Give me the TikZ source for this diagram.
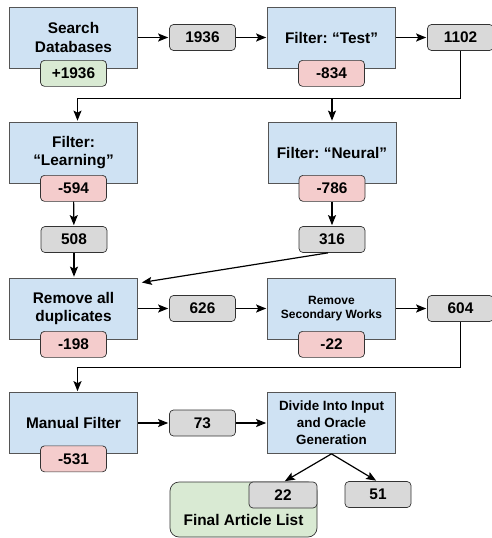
\documentclass[tikz,border=0pt]{standalone}
\usepackage{fontspec}
\setmainfont{Liberation Sans}
\usepackage{tikz}
\usetikzlibrary{arrows,arrows.meta,shapes,positioning}
\definecolor{stageblue}{HTML}{CFE2F3}
\definecolor{countgray}{HTML}{D9D9D9}
\definecolor{lossred}{HTML}{F4CCCC}
\definecolor{gaingreen}{HTML}{D9EAD3}
\definecolor{edgegray}{HTML}{555555}
\frenchspacing

\begin{document}
\begin{tikzpicture}[x=1pt,y=1pt,>={Stealth[length=10pt,width=8pt,inset=2pt]},->,
  shorten >=1pt,line width=1.2pt,
  node distance=129pt,font=\bfseries\fontsize{15.4}{18.5}\selectfont,
  stage node/.style={rectangle,draw=edgegray,line width=0.7pt,fill=stageblue,
    minimum width=128pt,minimum height=61pt,align=center,inner sep=2pt},
  count node/.style={rectangle,rounded corners=4pt,draw=black!80,line width=0.7pt,
    fill=countgray,minimum width=66pt,minimum height=26pt,inner sep=1pt},
  loss node/.style={count node,fill=lossred},
  gain node/.style={count node,fill=gaingreen}]
  \useasboundingbox (0,0) rectangle (492,-538);

  % row 1
  \node[stage node] (1) at (73.5,-37.5) {Search\\Databases};
  \node[count node] (2) [right of=1] {1936};
  \node[stage node] (3) [right of=2] {Filter: “Test”};
  \node[count node] (4) [right of=3] {1102};
  \node[gain node] (1b) at ([yshift=-5pt]1.south) {+1936};
  \node[loss node] (3b) at ([yshift=-5pt]3.south) {-834};

  % row 2
  \node[stage node] (5) at (73.5,-152.5) {Filter:\\“Learning”};
  \node[stage node] (6) at (332,-152.5) {Filter: “Neural”};
  \node[loss node] (5b) at ([yshift=-5pt]5.south) {-594};
  \node[loss node] (6b) at ([yshift=-5pt]6.south) {-786};
  \node[count node] (7) at (74,-239.5) {508};
  \node[count node] (8) at (332,-239.5) {316};

  % row 3
  \node[stage node] (9) at (73.5,-308.5) {Remove all\\duplicates};
  \node[count node] (10) [right of=9] {626};
  \node[stage node,font=\bfseries\fontsize{12}{14.5}\selectfont] (11) [right of=10] {Remove\\Secondary Works};
  \node[count node] (12) [right of=11] {604};
  \node[loss node] (9b) at ([yshift=-5pt]9.south) {-198};
  \node[loss node] (11b) at ([yshift=-5pt]11.south) {-22};

  % row 4
  \node[stage node] (13) at (73.5,-423) {Manual Filter};
  \node[count node] (14) [right of=13] {73};
  \node[stage node,font=\bfseries\fontsize{13.4}{16.8}\selectfont] (15) [right of=14] {Divide Into Input\\and Oracle\\Generation};
  \node[loss node] (13b) at ([yshift=-5pt]13.south) {-531};

  % result
  \node[rectangle,rounded corners=9pt,draw=black!80,line width=0.7pt,fill=gaingreen,
    minimum width=147pt,inner xsep=2pt,inner ysep=6pt,text height=37pt,text depth=6pt]
    (16) at (243.5,-509.5) {Final Article List};
  \node[count node,minimum width=68pt,anchor=north east] (17) at (16.north east) {22};
  \node[count node] (18) at (378,-494.5) {51};

  \coordinate (split1) at ([yshift=-48pt]4.south);
  \coordinate (split2) at ([yshift=-46pt]12.south);

  \path
    (1) edge (2)
    (2) edge (3)
    (3) edge (4)
    (5b) edge (7)
    (6b) edge (8)
    (7) edge ([xshift=0.5pt]9.north)
    ([xshift=-4pt]8.south) edge ([xshift=3pt,yshift=-5pt]9.north east)
    (9) edge (10)
    (10) edge (11)
    (11) edge (12)
    (13) edge (14)
    (14) edge (15)
    (15.south) edge ([xshift=1pt]17.north)
    (15.south) edge ([xshift=-1pt]18.north);

  \draw[-] (4.south) -- (split1);
  \draw (split1) -| ([xshift=4pt]5.north);
  \draw (6.north |- split1) -- (6.north);
  \draw[-] (12.south) -- (split2);
  \draw (split2) -| ([xshift=4pt]13.north);

\end{tikzpicture}
\end{document}
